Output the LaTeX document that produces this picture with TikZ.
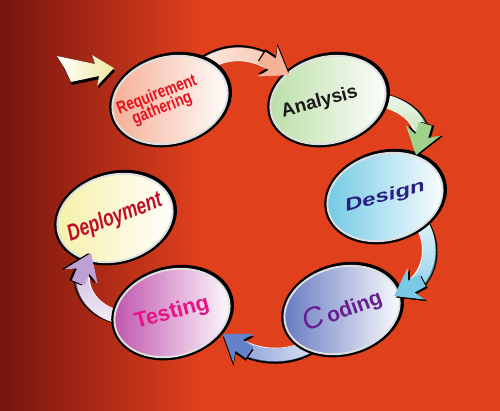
\documentclass[tikz,border=0pt]{standalone}
\usepackage{fontspec}
\setmainfont{Liberation Sans}
\usetikzlibrary{shapes.geometric,arrows.meta,calc,fadings}
\pgfdeclarelayer{back}
\pgfdeclarelayer{links}
\pgfsetlayers{back,links,main}
\definecolor{bgor}{RGB}{225,64,29}
\definecolor{bgmid}{RGB}{196,46,24}
\definecolor{bgdark}{RGB}{118,20,14}
\definecolor{reqc}{RGB}{245,172,145}
\definecolor{anac}{RGB}{185,222,165}
\definecolor{desc}{RGB}{110,200,228}
\definecolor{codc}{RGB}{98,118,192}
\definecolor{tesc}{RGB}{190,80,172}
\definecolor{depc}{RGB}{245,240,165}
\definecolor{reqt}{RGB}{232,18,30}
\definecolor{anat}{RGB}{25,25,25}
\definecolor{dest}{RGB}{42,32,130}
\definecolor{codt}{RGB}{102,32,142}
\definecolor{test}{RGB}{230,20,130}
\definecolor{dept}{RGB}{192,14,40}
\definecolor{hA}{RGB}{245,178,150}
\definecolor{hB}{RGB}{160,210,140}
\definecolor{hC}{RGB}{120,200,230}
\definecolor{hD}{RGB}{100,130,200}
\definecolor{hE}{RGB}{190,160,212}
\definecolor{startc}{RGB}{240,232,160}
\tikzfading[name=toE, left color=transparent!100, middle color=transparent!92, right color=transparent!10]
\tikzfading[name=toW, right color=transparent!100, middle color=transparent!92, left color=transparent!10]
\tikzfading[name=toS, top color=transparent!100, middle color=transparent!92, bottom color=transparent!10]
\tikzfading[name=toN, bottom color=transparent!100, middle color=transparent!92, top color=transparent!10]
% #1 shadow shift, #2 tip colour, #3 source, #4 control 1, #5 control 2, #6 target end, #7 fading
\newcommand\flowarrow[7]{%
  \begin{pgfonlayer}{links}
    \draw[arrshadow, transform canvas={shift={#1}}] (#3) .. controls (#4) and (#5) .. (#6);
    \draw[arr=#2] (#3) .. controls (#4) and (#5) .. (#6);
    \draw[#2, line width=2.7mm, shorten >=4mm, path fading=#7] (#3) .. controls (#4) and (#5) .. (#6);
  \end{pgfonlayer}
  \draw[arrshadow, transform canvas={shift={#1}}] ($(#6)!6.5mm!(#5)$) -- (#6);
  \draw[arr=#2, #2] ($(#6)!6.5mm!(#5)$) -- (#6);}
\newcommand\ztext[1]{\makebox[0pt]{#1}}
\begin{document}
\begin{tikzpicture}[x=0.2mm,y=-0.2mm,
  phase/.style={ellipse, inner sep=0pt, minimum width=23.4mm, minimum height=17.2mm,
    rotate=15, left color=#1, right color=white, draw=gray!25, line width=1.1pt,
    preaction={draw=black, line width=3.6pt},
    preaction={draw=black, line width=3.6pt, transform canvas={shift={(1.2,-0.8)}}}},
  arr/.style={line width=2.7mm, white,
    -{Stealth[length=5mm, width=7mm, inset=1.7mm, fill=#1, color=#1]}},
  arrshadow/.style={line width=2.7mm, black,
    -{Stealth[length=5mm, width=7mm, inset=1.7mm]}}]
\useasboundingbox (0,0) rectangle (500,411);
\begin{pgfonlayer}{back}
  \fill[bgor] (0,0) rectangle (500,411);
  \fill[left color=bgdark, middle color=bgmid, right color=bgor] (0,0) rectangle (200,411);
\end{pgfonlayer}

\node[phase=reqc, text=reqt, font=\bfseries\fontsize{10}{10}\selectfont] (req) at (170,100)
  {\ztext{\rotatebox{6}{\scalebox{0.78}[1]{\begin{tabular}{@{}c@{}}Requirement\\[-2pt]gathering\end{tabular}}}\hspace*{12pt}}};
\node[phase=anac, text=anat, font=\bfseries\fontsize{10.8}{11}\selectfont] (ana) at (328,100)
  {\ztext{Analysis\hspace*{10pt}}};
\node[phase=desc, text=dest, font=\bfseries\itshape\fontsize{10}{10}\selectfont] (des) at (385,197)
  {\ztext{\scalebox{1.4}[1]{Design}}};
\node[phase=codc, text=codt, font=\bfseries\fontsize{12}{12}\selectfont] (cod) at (342,310)
  {\ztext{\rotatebox{5}{{\itshape\mdseries\fontsize{17}{17}\selectfont C}\,oding}}};
\node[phase=tesc, text=test, font=\bfseries\fontsize{12.5}{12.5}\selectfont] (tes) at (172,313)
  {\ztext{Testing}};
\node[phase=depc, text=dept, font=\bfseries\itshape\fontsize{11}{11}\selectfont] (dep) at (115,218)
  {\ztext{\rotatebox{6}{\scalebox{0.9}[1.2]{Deployment}}}};

\coordinate (a1) at (215,35);  \coordinate (b1) at (258,55);
\coordinate (e1) at ([shift={(-39,-25)}]ana.center);
\coordinate (a2) at (405,88);  \coordinate (b2) at (425,125);
\coordinate (e2) at ([shift={(31,-42)}]des.center);
\coordinate (a3) at (440,215); \coordinate (b3) at (438,272);
\coordinate (e3) at ([shift={(52,-14)}]cod.center);
\coordinate (a4) at (315,365); \coordinate (b4) at (260,360);
\coordinate (e4) at ([shift={(51,21)}]tes.center);
\coordinate (a5) at (100,335); \coordinate (b5) at (75,290);
\coordinate (e5) at ([shift={(-24,35)}]dep.center);

\flowarrow{(0,-2.5)}{hA}{req.center}{a1}{b1}{e1}{toE}
\flowarrow{(2.5,0)}{hB}{ana.center}{a2}{b2}{e2}{toS}
\flowarrow{(2,1.5)}{hC}{des.center}{a3}{b3}{e3}{toS}
\flowarrow{(0,2.5)}{hD}{cod.center}{a4}{b4}{e4}{toW}
\flowarrow{(-2.5,0)}{hE}{tes.center}{a5}{b5}{e5}{toN}

\coordinate (s0) at (57,56);
\fill[black, shift={(1,3)}] (s0) -- (95,64) -- (92,55) -- (114,68) -- (97,86) -- (99,76) -- (71,82) -- (65,69) -- cycle;
\fill[left color=white, right color=startc] (s0) -- (95,64) -- (92,55) -- (114,68) -- (97,86) -- (99,76) -- (71,82) -- (65,69) -- cycle;
\end{tikzpicture}
\end{document}
